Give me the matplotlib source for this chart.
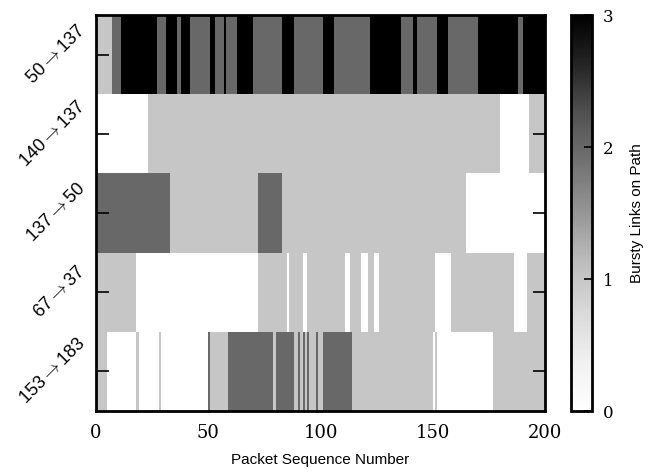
import numpy as np
import matplotlib.pyplot as plt

plt.rcParams['font.family'] = ['Liberation Sans', 'DejaVu Sans']
plt.rcParams['mathtext.fontset'] = 'cm'

# paths (rows, top to bottom)
paths = ['50→137', '140→137', '137→50', '67→37', '153→183']

# each row: start packet of a run and the number of bursty links in that run
row1_starts = [0, 7, 11, 27, 31, 36, 38, 42, 51, 53, 57, 58, 63, 70, 83, 88, 101, 106,
               122, 136, 141, 143, 152, 157, 170, 188, 190]
row1_vals = [1, 2, 3, 2, 3, 2, 3, 2, 3, 2, 3, 2, 3, 2, 3, 2, 3, 2, 3, 2, 3, 2, 3, 2, 3, 2, 3]

row2_starts = [0, 23, 180, 193]
row2_vals = [0, 1, 0, 1]

row3_starts = [0, 33, 72, 83, 165]
row3_vals = [2, 1, 2, 1, 0]

row4_starts = [0, 18, 72, 85, 86, 92, 94, 111, 113, 118, 121, 124, 126, 151, 158, 186, 192]
row4_vals = [1, 0, 1, 0, 1, 0, 1, 0, 1, 0, 1, 0, 1, 0, 1, 0, 1]

row5_starts = [0, 5, 18, 19, 28, 29, 50, 51, 59, 79, 80, 88, 90, 91, 92, 93, 94, 95, 98,
               99, 101, 114, 150, 151, 152, 177]
row5_vals = [1, 0, 1, 0, 1, 0, 2, 1, 2, 1, 2, 1, 2, 1, 2, 1, 2, 1, 2, 1, 2, 1, 0, 1, 0, 1]

n_packets = 200


def expand(starts, vals, n=n_packets):
    out = np.zeros(n)
    ends = starts[1:] + [n]
    for s, e, v in zip(starts, ends, vals):
        out[s:e] = v
    return out


grid = np.vstack([expand(row1_starts, row1_vals),
                  expand(row2_starts, row2_vals),
                  expand(row3_starts, row3_vals),
                  expand(row4_starts, row4_vals),
                  expand(row5_starts, row5_vals)])

fig = plt.figure(figsize=(6.52, 4.72), dpi=100)
ax = fig.add_axes([96 / 652, 1 - 411 / 472, 449 / 652, 396 / 472])

x_edges = np.arange(n_packets + 1)
y_edges = np.arange(len(paths) + 1)
mesh = ax.pcolormesh(x_edges, y_edges, grid, cmap='Greys', vmin=0, vmax=3)
ax.set_xlim(0, n_packets)
ax.set_ylim(len(paths), 0)

ax.set_yticks(np.arange(len(paths)) + 0.5)
ax.set_yticklabels([p.replace('→', r'$\rightarrow$') for p in paths],
                   rotation=45, ha='right', va='center', fontsize=13)
ax.set_xticks([0, 50, 100, 150, 200])
for lab in ax.get_xticklabels():
    lab.set_family('DejaVu Serif')
ax.tick_params(axis='x', labelsize=13, length=0, pad=9)
ax.tick_params(axis='y', direction='in', length=9, width=1.2, right=True, pad=5)
for sp in ax.spines.values():
    sp.set_linewidth(2)

ax.set_xlabel('Packet Sequence Number', fontsize=11, labelpad=8)

cax = fig.add_axes([571 / 652, 1 - 411 / 472, 21 / 652, 396 / 472])
cb = fig.colorbar(mesh, cax=cax, ticks=[0, 1, 2, 3])
cb.outline.set_linewidth(2)
for lab in cax.get_yticklabels():
    lab.set_family('DejaVu Serif')
cax.tick_params(direction='in', length=6, width=1.2, labelsize=12, pad=8)
cb.set_label('Bursty Links on Path', fontsize=11, labelpad=12)

fig.savefig('out.png', dpi=100)
